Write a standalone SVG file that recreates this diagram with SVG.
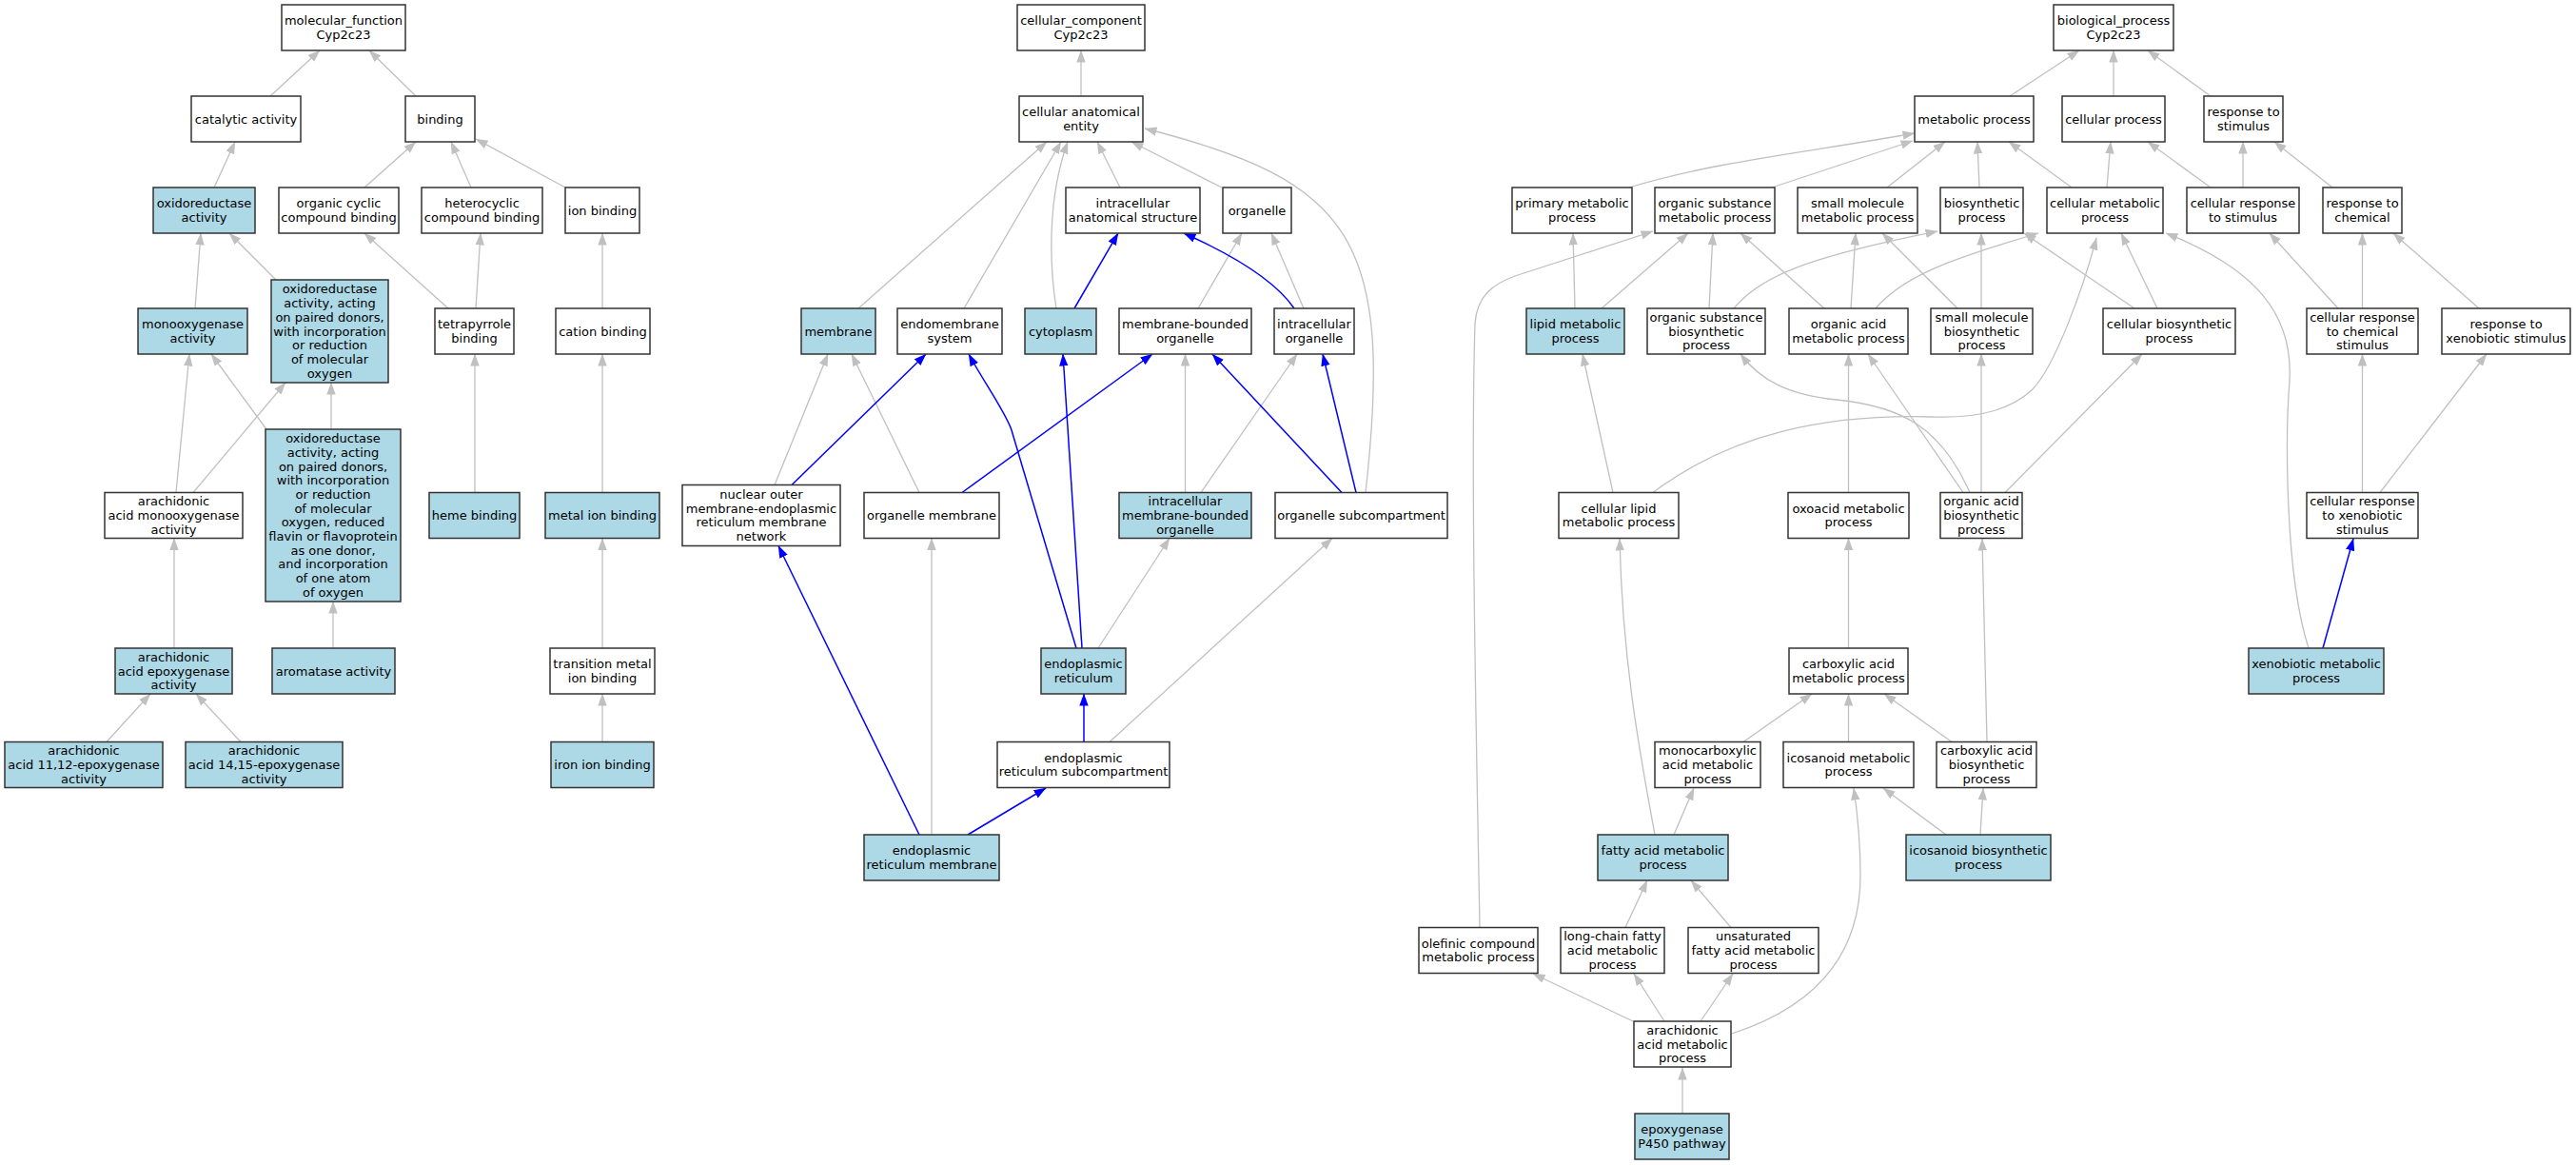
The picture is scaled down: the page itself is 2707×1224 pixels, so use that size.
<svg xmlns="http://www.w3.org/2000/svg" width="2707" height="1224" viewBox="0 0 2707 1224">
<defs>
<style>
.w,.b{stroke:#333;stroke-width:1.5}
.w{fill:#fff}
.b{fill:#add8e6}
.bg{fill:#fff;stroke:none}
text{font-family:"DejaVu Sans","Liberation Sans",sans-serif;font-size:13px;fill:#000;text-anchor:middle}
.g{fill:none;stroke:#c0c0c0;stroke-width:1.3;marker-end:url(#ag)}
.u{fill:none;stroke:#0000ff;stroke-width:1.5;marker-end:url(#ab)}
</style>
<marker id="ag" viewBox="0 0 13 10" refX="12.5" refY="5" markerWidth="13" markerHeight="10" markerUnits="userSpaceOnUse" orient="auto"><path d="M0,0.3 L13,5 L0,9.7z" fill="#c0c0c0"/></marker>
<marker id="ab" viewBox="0 0 13 10" refX="12.5" refY="5" markerWidth="13" markerHeight="10" markerUnits="userSpaceOnUse" orient="auto"><path d="M0,0.3 L13,5 L0,9.7z" fill="#0000ff"/></marker>
</defs>
<rect class="bg" x="0" y="0" width="2707" height="1224"/>
<g id="connectors">
<path class="g" d="M284,101 L336,53"/>
<path class="g" d="M437,101 L388,53"/>
<path class="g" d="M225,197 L247,149"/>
<path class="g" d="M383,197 L437,149"/>
<path class="g" d="M495,197 L474,149"/>
<path class="g" d="M594,197 L500,146"/>
<path class="g" d="M205,324 L211,245"/>
<path class="g" d="M290,294 L241,245"/>
<path class="g" d="M471,324 L383,245"/>
<path class="g" d="M500,324 L505,245"/>
<path class="g" d="M633,324 L633,245"/>
<path class="g" d="M185,517.5 L199,372"/>
<path class="g" d="M203,517.5 L300,402"/>
<path class="g" d="M280,451 L222,372"/>
<path class="g" d="M348,451 L348,402"/>
<path class="g" d="M499,517.5 L499,372"/>
<path class="g" d="M633,517.5 L633,372"/>
<path class="g" d="M183,681 L183,565.5"/>
<path class="g" d="M350,681 L350,632"/>
<path class="g" d="M633,681 L633,565.5"/>
<path class="g" d="M112,779.5 L158,729"/>
<path class="g" d="M253,779.5 L206,729"/>
<path class="g" d="M633,779.5 L633,729"/>
<path class="g" d="M1136,101 L1136,53"/>
<path class="g" d="M902,324 L1100,149"/>
<path class="g" d="M1013,324 L1115,149"/>
<path class="g" d="M1110,324 C1103,280 1100,210 1122,149"/>
<path class="g" d="M1177,197 L1153,149"/>
<path class="g" d="M1284,197 L1189,149"/>
<path class="g" d="M1435,517.5 C1465,250 1420,190 1203,135"/>
<path class="g" d="M1259,324 L1305,245"/>
<path class="g" d="M1370,324 L1336,245"/>
<path class="g" d="M814,509.5 L870,372"/>
<path class="g" d="M966,517.5 L895,372"/>
<path class="g" d="M1245.5,517.5 L1245.5,372"/>
<path class="g" d="M1262,517.5 L1363,372"/>
<path class="g" d="M1154,681 L1229,565.5"/>
<path class="g" d="M1166,779.5 L1400,565.5"/>
<path class="g" d="M979,877 L979,565.5"/>
<path class="u" d="M1129,324 L1175,245"/>
<path class="u" d="M1360,324 C1340,295 1300,270 1244,245"/>
<path class="u" d="M832,509.5 L973,372"/>
<path class="u" d="M1131,681 L1063,452 C1058,435 1030,395 1018,372"/>
<path class="u" d="M1137,681 L1117,372"/>
<path class="u" d="M1011,517.5 L1211,372"/>
<path class="u" d="M1410,517.5 L1274,372"/>
<path class="u" d="M1425,517.5 L1390,372"/>
<path class="u" d="M1139,779.5 L1139,729"/>
<path class="u" d="M966,877 L818,573.5"/>
<path class="u" d="M1017,877 L1099,828"/>
<path class="g" d="M2112,101 L2185,53"/>
<path class="g" d="M2221,101 L2221,53"/>
<path class="g" d="M2323,101 L2257,53"/>
<path class="g" d="M2080,197 L2078,149"/>
<path class="g" d="M2177,197 L2111,149"/>
<path class="g" d="M2214,197 L2218,149"/>
<path class="g" d="M2323,197 L2257,149"/>
<path class="g" d="M2357,197 L2357,149"/>
<path class="g" d="M2451,197 L2390,149"/>
<path class="g" d="M1712,197 C1800,170 1900,160 2012,140"/>
<path class="g" d="M1862,197 L2010,148"/>
<path class="g" d="M1983,197 L2044,149"/>
<path class="g" d="M1655,324 L1653,245"/>
<path class="g" d="M1683,324 L1774,245"/>
<path class="g" d="M1796,324 L1800,245"/>
<path class="g" d="M1917,324 L1829,245"/>
<path class="g" d="M1945,324 L1950,245"/>
<path class="g" d="M2057,324 L1978,245"/>
<path class="g" d="M2082,324 L2082,245"/>
<path class="g" d="M1822,324 C1850,290 1900,270 2036,243"/>
<path class="g" d="M1971,324 C2000,290 2050,272 2142,245"/>
<path class="g" d="M2243,324 L2127,245"/>
<path class="g" d="M2267,324 L2229,245"/>
<path class="g" d="M2426,681 C2400,600 2402,450 2406,400 C2410,330 2370,282 2276,245"/>
<path class="g" d="M2457,324 L2385,245"/>
<path class="g" d="M2482.5,324 L2482.5,245"/>
<path class="g" d="M2605,324 L2515,245"/>
<path class="g" d="M1695,517.5 L1663,372"/>
<path class="g" d="M1737,517.5 C1820,455 1920,435 2030,438 C2085,440 2115,428 2135,410 C2160,385 2190,300 2203,250"/>
<path class="g" d="M1942.5,517.5 L1942.5,372"/>
<path class="g" d="M2063,517.5 L1963,372"/>
<path class="g" d="M2070,517.5 C2040,450 2000,427 1930,420 C1880,415 1850,400 1829,372"/>
<path class="g" d="M2082,517.5 L2082,372"/>
<path class="g" d="M2107,517.5 L2251,372"/>
<path class="g" d="M2482.5,517.5 L2482.5,372"/>
<path class="g" d="M2501,517.5 L2613,372"/>
<path class="g" d="M1942.5,681 L1942.5,565.5"/>
<path class="u" d="M2441,681 L2473,566"/>
<path class="g" d="M1832,779.5 L1904,729"/>
<path class="g" d="M1942.5,779.5 L1942.5,729"/>
<path class="g" d="M2051,779.5 L1980,729"/>
<path class="g" d="M2088,779.5 L2083,566"/>
<path class="g" d="M1759,877 L1780,828"/>
<path class="g" d="M1739,877 C1725,800 1705,700 1702,566"/>
<path class="g" d="M2045,877 L1979,828"/>
<path class="g" d="M2081,877 L2084,828"/>
<path class="g" d="M1555,974.5 C1552,800 1545,500 1550,340 C1552,310 1570,298 1592,290 L1737,243"/>
<path class="g" d="M1708,974.5 L1731,925"/>
<path class="g" d="M1819,974.5 L1777,925"/>
<path class="g" d="M1716,1073 L1611,1023"/>
<path class="g" d="M1749,1073 L1717,1023"/>
<path class="g" d="M1787,1073 L1821,1023"/>
<path class="g" d="M1820,1086 C1900,1060 1955,1010 1955,920 C1955,880 1952,855 1948,828"/>
<path class="g" d="M1768,1170 L1768,1122"/>
</g>
<g id="n1"><rect class="w" x="296" y="5" width="130" height="48"/><text x="361" y="26.15"><tspan x="361">molecular_function</tspan><tspan x="361" dy="14.7">Cyp2c23</tspan></text></g>
<g id="n2"><rect class="w" x="201" y="101" width="115" height="48"/><text x="258.5" y="129.5">catalytic activity</text></g>
<g id="n3"><rect class="w" x="426" y="101" width="73" height="48"/><text x="462.5" y="129.5">binding</text></g>
<g id="n4"><rect class="b" x="161" y="197" width="107" height="48"/><text x="214.5" y="218.15"><tspan x="214.5">oxidoreductase</tspan><tspan x="214.5" dy="14.7">activity</tspan></text></g>
<g id="n5"><rect class="w" x="293" y="197" width="126" height="48"/><text x="356" y="218.15"><tspan x="356">organic cyclic</tspan><tspan x="356" dy="14.7">compound binding</tspan></text></g>
<g id="n6"><rect class="w" x="443" y="197" width="127" height="48"/><text x="506.5" y="218.15"><tspan x="506.5">heterocyclic</tspan><tspan x="506.5" dy="14.7">compound binding</tspan></text></g>
<g id="n7"><rect class="w" x="594" y="197" width="78" height="48"/><text x="633" y="225.5">ion binding</text></g>
<g id="n8"><rect class="b" x="145" y="324" width="115" height="48"/><text x="202.5" y="345.15"><tspan x="202.5">monooxygenase</tspan><tspan x="202.5" dy="14.7">activity</tspan></text></g>
<g id="n9"><rect class="b" x="285" y="294" width="123" height="108"/><text x="346.5" y="308.4"><tspan x="346.5">oxidoreductase</tspan><tspan x="346.5" dy="14.7">activity, acting</tspan><tspan x="346.5" dy="14.7">on paired donors,</tspan><tspan x="346.5" dy="14.7">with incorporation</tspan><tspan x="346.5" dy="14.7">or reduction</tspan><tspan x="346.5" dy="14.7">of molecular</tspan><tspan x="346.5" dy="14.7">oxygen</tspan></text></g>
<g id="n10"><rect class="w" x="457" y="324" width="83" height="48"/><text x="498.5" y="345.15"><tspan x="498.5">tetrapyrrole</tspan><tspan x="498.5" dy="14.7">binding</tspan></text></g>
<g id="n11"><rect class="w" x="584" y="324" width="99" height="48"/><text x="633.5" y="352.5">cation binding</text></g>
<g id="n12"><rect class="w" x="110" y="517.5" width="145" height="48"/><text x="182.5" y="531.3"><tspan x="182.5">arachidonic</tspan><tspan x="182.5" dy="14.7">acid monooxygenase</tspan><tspan x="182.5" dy="14.7">activity</tspan></text></g>
<g id="n13"><rect class="b" x="279" y="451" width="142" height="181"/><text x="350" y="465.15"><tspan x="350">oxidoreductase</tspan><tspan x="350" dy="14.7">activity, acting</tspan><tspan x="350" dy="14.7">on paired donors,</tspan><tspan x="350" dy="14.7">with incorporation</tspan><tspan x="350" dy="14.7">or reduction</tspan><tspan x="350" dy="14.7">of molecular</tspan><tspan x="350" dy="14.7">oxygen, reduced</tspan><tspan x="350" dy="14.7">flavin or flavoprotein</tspan><tspan x="350" dy="14.7">as one donor,</tspan><tspan x="350" dy="14.7">and incorporation</tspan><tspan x="350" dy="14.7">of one atom</tspan><tspan x="350" dy="14.7">of oxygen</tspan></text></g>
<g id="n14"><rect class="b" x="451" y="517.5" width="95" height="48"/><text x="498.5" y="546">heme binding</text></g>
<g id="n15"><rect class="b" x="573" y="517.5" width="120" height="48"/><text x="633" y="546">metal ion binding</text></g>
<g id="n16"><rect class="b" x="121" y="681" width="123" height="48"/><text x="182.5" y="694.8"><tspan x="182.5">arachidonic</tspan><tspan x="182.5" dy="14.7">acid epoxygenase</tspan><tspan x="182.5" dy="14.7">activity</tspan></text></g>
<g id="n17"><rect class="b" x="286" y="681" width="129" height="48"/><text x="350.5" y="709.5">aromatase activity</text></g>
<g id="n18"><rect class="w" x="578" y="681" width="110" height="48"/><text x="633" y="702.15"><tspan x="633">transition metal</tspan><tspan x="633" dy="14.7">ion binding</tspan></text></g>
<g id="n19"><rect class="b" x="5" y="779.5" width="166" height="48"/><text x="88" y="793.3"><tspan x="88">arachidonic</tspan><tspan x="88" dy="14.7">acid 11,12-epoxygenase</tspan><tspan x="88" dy="14.7">activity</tspan></text></g>
<g id="n20"><rect class="b" x="195" y="779.5" width="165" height="48"/><text x="277.5" y="793.3"><tspan x="277.5">arachidonic</tspan><tspan x="277.5" dy="14.7">acid 14,15-epoxygenase</tspan><tspan x="277.5" dy="14.7">activity</tspan></text></g>
<g id="n21"><rect class="b" x="579" y="779.5" width="108" height="48"/><text x="633" y="808">iron ion binding</text></g>
<g id="n22"><rect class="w" x="1069" y="5" width="134" height="48"/><text x="1136" y="26.15"><tspan x="1136">cellular_component</tspan><tspan x="1136" dy="14.7">Cyp2c23</tspan></text></g>
<g id="n23"><rect class="w" x="1071" y="101" width="130" height="48"/><text x="1136" y="122.15"><tspan x="1136">cellular anatomical</tspan><tspan x="1136" dy="14.7">entity</tspan></text></g>
<g id="n24"><rect class="w" x="1120" y="197" width="141" height="48"/><text x="1190.5" y="218.15"><tspan x="1190.5">intracellular</tspan><tspan x="1190.5" dy="14.7">anatomical structure</tspan></text></g>
<g id="n25"><rect class="w" x="1285" y="197" width="72" height="48"/><text x="1321" y="225.5">organelle</text></g>
<g id="n26"><rect class="b" x="842" y="324" width="78" height="48"/><text x="881" y="352.5">membrane</text></g>
<g id="n27"><rect class="w" x="943" y="324" width="110" height="48"/><text x="998" y="345.15"><tspan x="998">endomembrane</tspan><tspan x="998" dy="14.7">system</tspan></text></g>
<g id="n28"><rect class="b" x="1077" y="324" width="75" height="48"/><text x="1114.5" y="352.5">cytoplasm</text></g>
<g id="n29"><rect class="w" x="1176" y="324" width="139" height="48"/><text x="1245.5" y="345.15"><tspan x="1245.5">membrane-bounded</tspan><tspan x="1245.5" dy="14.7">organelle</tspan></text></g>
<g id="n30"><rect class="w" x="1339" y="324" width="84" height="48"/><text x="1381" y="345.15"><tspan x="1381">intracellular</tspan><tspan x="1381" dy="14.7">organelle</tspan></text></g>
<g id="n31"><rect class="w" x="717" y="509.5" width="166" height="64"/><text x="800" y="523.95"><tspan x="800">nuclear outer</tspan><tspan x="800" dy="14.7">membrane-endoplasmic</tspan><tspan x="800" dy="14.7">reticulum membrane</tspan><tspan x="800" dy="14.7">network</tspan></text></g>
<g id="n32"><rect class="w" x="908" y="517.5" width="142" height="48"/><text x="979" y="546">organelle membrane</text></g>
<g id="n33"><rect class="b" x="1176" y="517.5" width="139" height="48"/><text x="1245.5" y="531.3"><tspan x="1245.5">intracellular</tspan><tspan x="1245.5" dy="14.7">membrane-bounded</tspan><tspan x="1245.5" dy="14.7">organelle</tspan></text></g>
<g id="n34"><rect class="w" x="1340" y="517.5" width="181" height="48"/><text x="1430.5" y="546">organelle subcompartment</text></g>
<g id="n35"><rect class="b" x="1094" y="681" width="89" height="48"/><text x="1138.5" y="702.15"><tspan x="1138.5">endoplasmic</tspan><tspan x="1138.5" dy="14.7">reticulum</tspan></text></g>
<g id="n36"><rect class="w" x="1048" y="779.5" width="181" height="48"/><text x="1138.5" y="800.65"><tspan x="1138.5">endoplasmic</tspan><tspan x="1138.5" dy="14.7">reticulum subcompartment</tspan></text></g>
<g id="n37"><rect class="b" x="908" y="877" width="142" height="48"/><text x="979" y="898.15"><tspan x="979">endoplasmic</tspan><tspan x="979" dy="14.7">reticulum membrane</tspan></text></g>
<g id="n38"><rect class="w" x="2158" y="5" width="126" height="48"/><text x="2221" y="26.15"><tspan x="2221">biological_process</tspan><tspan x="2221" dy="14.7">Cyp2c23</tspan></text></g>
<g id="n39"><rect class="w" x="2012" y="101" width="125" height="48"/><text x="2074.5" y="129.5">metabolic process</text></g>
<g id="n40"><rect class="w" x="2167" y="101" width="108" height="48"/><text x="2221" y="129.5">cellular process</text></g>
<g id="n41"><rect class="w" x="2316" y="101" width="83" height="48"/><text x="2357.5" y="122.15"><tspan x="2357.5">response to</tspan><tspan x="2357.5" dy="14.7">stimulus</tspan></text></g>
<g id="n42"><rect class="w" x="1589" y="197" width="126" height="48"/><text x="1652" y="218.15"><tspan x="1652">primary metabolic</tspan><tspan x="1652" dy="14.7">process</tspan></text></g>
<g id="n43"><rect class="w" x="1739" y="197" width="126" height="48"/><text x="1802" y="218.15"><tspan x="1802">organic substance</tspan><tspan x="1802" dy="14.7">metabolic process</tspan></text></g>
<g id="n44"><rect class="w" x="1889" y="197" width="126" height="48"/><text x="1952" y="218.15"><tspan x="1952">small molecule</tspan><tspan x="1952" dy="14.7">metabolic process</tspan></text></g>
<g id="n45"><rect class="w" x="2039" y="197" width="87" height="48"/><text x="2082.5" y="218.15"><tspan x="2082.5">biosynthetic</tspan><tspan x="2082.5" dy="14.7">process</tspan></text></g>
<g id="n46"><rect class="w" x="2151" y="197" width="122" height="48"/><text x="2212" y="218.15"><tspan x="2212">cellular metabolic</tspan><tspan x="2212" dy="14.7">process</tspan></text></g>
<g id="n47"><rect class="w" x="2298" y="197" width="118" height="48"/><text x="2357" y="218.15"><tspan x="2357">cellular response</tspan><tspan x="2357" dy="14.7">to stimulus</tspan></text></g>
<g id="n48"><rect class="w" x="2441" y="197" width="83" height="48"/><text x="2482.5" y="218.15"><tspan x="2482.5">response to</tspan><tspan x="2482.5" dy="14.7">chemical</tspan></text></g>
<g id="n49"><rect class="b" x="1604" y="324" width="103" height="48"/><text x="1655.5" y="345.15"><tspan x="1655.5">lipid metabolic</tspan><tspan x="1655.5" dy="14.7">process</tspan></text></g>
<g id="n50"><rect class="w" x="1731" y="324" width="124" height="48"/><text x="1793" y="337.8"><tspan x="1793">organic substance</tspan><tspan x="1793" dy="14.7">biosynthetic</tspan><tspan x="1793" dy="14.7">process</tspan></text></g>
<g id="n51"><rect class="w" x="1880" y="324" width="125" height="48"/><text x="1942.5" y="345.15"><tspan x="1942.5">organic acid</tspan><tspan x="1942.5" dy="14.7">metabolic process</tspan></text></g>
<g id="n52"><rect class="w" x="2029" y="324" width="107" height="48"/><text x="2082.5" y="337.8"><tspan x="2082.5">small molecule</tspan><tspan x="2082.5" dy="14.7">biosynthetic</tspan><tspan x="2082.5" dy="14.7">process</tspan></text></g>
<g id="n53"><rect class="w" x="2210" y="324" width="139" height="48"/><text x="2279.5" y="345.15"><tspan x="2279.5">cellular biosynthetic</tspan><tspan x="2279.5" dy="14.7">process</tspan></text></g>
<g id="n54"><rect class="w" x="2424" y="324" width="117" height="48"/><text x="2482.5" y="337.8"><tspan x="2482.5">cellular response</tspan><tspan x="2482.5" dy="14.7">to chemical</tspan><tspan x="2482.5" dy="14.7">stimulus</tspan></text></g>
<g id="n55"><rect class="w" x="2566" y="324" width="135" height="48"/><text x="2633.5" y="345.15"><tspan x="2633.5">response to</tspan><tspan x="2633.5" dy="14.7">xenobiotic stimulus</tspan></text></g>
<g id="n56"><rect class="w" x="1638" y="517.5" width="126" height="48"/><text x="1701" y="538.65"><tspan x="1701">cellular lipid</tspan><tspan x="1701" dy="14.7">metabolic process</tspan></text></g>
<g id="n57"><rect class="w" x="1879" y="517.5" width="127" height="48"/><text x="1942.5" y="538.65"><tspan x="1942.5">oxoacid metabolic</tspan><tspan x="1942.5" dy="14.7">process</tspan></text></g>
<g id="n58"><rect class="w" x="2039" y="517.5" width="86" height="48"/><text x="2082" y="531.3"><tspan x="2082">organic acid</tspan><tspan x="2082" dy="14.7">biosynthetic</tspan><tspan x="2082" dy="14.7">process</tspan></text></g>
<g id="n59"><rect class="w" x="2424" y="517.5" width="117" height="48"/><text x="2482.5" y="531.3"><tspan x="2482.5">cellular response</tspan><tspan x="2482.5" dy="14.7">to xenobiotic</tspan><tspan x="2482.5" dy="14.7">stimulus</tspan></text></g>
<g id="n60"><rect class="w" x="1880" y="681" width="125" height="48"/><text x="1942.5" y="702.15"><tspan x="1942.5">carboxylic acid</tspan><tspan x="1942.5" dy="14.7">metabolic process</tspan></text></g>
<g id="n61"><rect class="b" x="2363" y="681" width="142" height="48"/><text x="2434" y="702.15"><tspan x="2434">xenobiotic metabolic</tspan><tspan x="2434" dy="14.7">process</tspan></text></g>
<g id="n62"><rect class="w" x="1739" y="779.5" width="111" height="48"/><text x="1794.5" y="793.3"><tspan x="1794.5">monocarboxylic</tspan><tspan x="1794.5" dy="14.7">acid metabolic</tspan><tspan x="1794.5" dy="14.7">process</tspan></text></g>
<g id="n63"><rect class="w" x="1874" y="779.5" width="137" height="48"/><text x="1942.5" y="800.65"><tspan x="1942.5">icosanoid metabolic</tspan><tspan x="1942.5" dy="14.7">process</tspan></text></g>
<g id="n64"><rect class="w" x="2035" y="779.5" width="105" height="48"/><text x="2087.5" y="793.3"><tspan x="2087.5">carboxylic acid</tspan><tspan x="2087.5" dy="14.7">biosynthetic</tspan><tspan x="2087.5" dy="14.7">process</tspan></text></g>
<g id="n65"><rect class="b" x="1679" y="877" width="137" height="48"/><text x="1747.5" y="898.15"><tspan x="1747.5">fatty acid metabolic</tspan><tspan x="1747.5" dy="14.7">process</tspan></text></g>
<g id="n66"><rect class="b" x="2003" y="877" width="152" height="48"/><text x="2079" y="898.15"><tspan x="2079">icosanoid biosynthetic</tspan><tspan x="2079" dy="14.7">process</tspan></text></g>
<g id="n67"><rect class="w" x="1491" y="974.5" width="125" height="48"/><text x="1553.5" y="995.65"><tspan x="1553.5">olefinic compound</tspan><tspan x="1553.5" dy="14.7">metabolic process</tspan></text></g>
<g id="n68"><rect class="w" x="1640" y="974.5" width="109" height="48"/><text x="1694.5" y="988.3"><tspan x="1694.5">long-chain fatty</tspan><tspan x="1694.5" dy="14.7">acid metabolic</tspan><tspan x="1694.5" dy="14.7">process</tspan></text></g>
<g id="n69"><rect class="w" x="1774" y="974.5" width="137" height="48"/><text x="1842.5" y="988.3"><tspan x="1842.5">unsaturated</tspan><tspan x="1842.5" dy="14.7">fatty acid metabolic</tspan><tspan x="1842.5" dy="14.7">process</tspan></text></g>
<g id="n70"><rect class="w" x="1717" y="1073" width="102" height="48"/><text x="1768" y="1086.8"><tspan x="1768">arachidonic</tspan><tspan x="1768" dy="14.7">acid metabolic</tspan><tspan x="1768" dy="14.7">process</tspan></text></g>
<g id="n71"><rect class="b" x="1718" y="1170" width="99" height="48"/><text x="1767.5" y="1191.15"><tspan x="1767.5">epoxygenase</tspan><tspan x="1767.5" dy="14.7">P450 pathway</tspan></text></g>
</svg>
